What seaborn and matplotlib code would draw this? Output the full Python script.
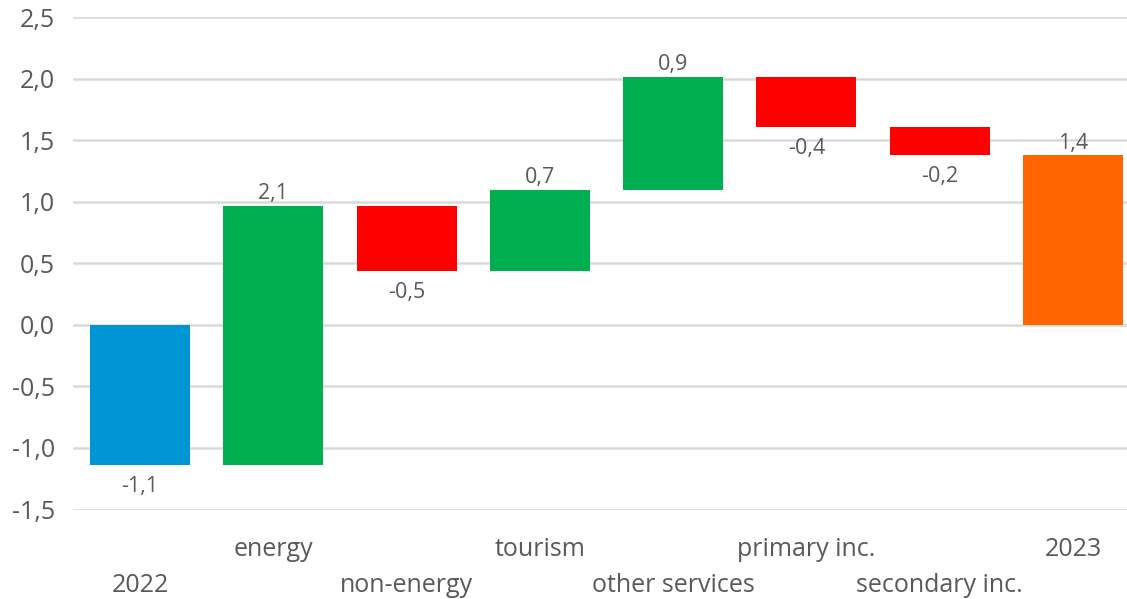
import matplotlib
matplotlib.use("Agg")
import matplotlib.pyplot as plt
import seaborn as sns
import numpy as np

# Waterfall: variazioni tra 2022 e 2023
categorie = ["2022", "energy", "non-energy", "tourism", "other services",
             "primary inc.", "secondary inc.", "2023"]
variazioni = [-1.14, 2.11, -0.53, 0.66, 0.92, -0.41, -0.23, 1.38]
tipo = ["totale", "delta", "delta", "delta", "delta", "delta", "delta", "totale"]

colori = {"start": "#0096D6", "pos": "#00B050", "neg": "#FF0000", "end": "#FF6600"}
grigio = "#595959"

sns.set_theme(style="white")
plt.rcParams["font.family"] = ["Open Sans", "DejaVu Sans"]

fig = plt.figure(figsize=(11.27, 5.99), dpi=100)
ax = fig.add_axes([73.3 / 1127, 89.5 / 599, 1066.4 / 1127, 492 / 599])

# basi e altezze
cumulato = 0.0
basi, altezze, col = [], [], []
for i, (v, t) in enumerate(zip(variazioni, tipo)):
    if t == "totale":
        basi.append(0.0)
        altezze.append(v)
        cumulato = v
        col.append(colori["start"] if i == 0 else colori["end"])
    else:
        basi.append(cumulato)
        altezze.append(v)
        cumulato += v
        col.append(colori["pos"] if v > 0 else colori["neg"])

for i, cat in enumerate(categorie):
    sns.barplot(x=[cat], y=[altezze[i]], bottom=basi[i], order=categorie,
                color=col[i], saturation=1, width=0.75, ax=ax, linewidth=0)

# etichette dei valori
for i in range(len(categorie)):
    v = variazioni[i]
    testo = f"{v:.1f}".replace(".", ",")
    y = basi[i] + altezze[i]
    if v >= 0:
        ax.annotate(testo, (i, y), xytext=(0, 1), textcoords="offset points",
                    ha="center", va="bottom", fontsize=15.5, color=grigio)
    else:
        ax.annotate(testo, (i, y), xytext=(0, -8), textcoords="offset points",
                    ha="center", va="top", fontsize=15.5, color=grigio)

ax.set_ylim(-1.5, 2.5)
ax.set_xlim(-0.5, 7.5)
ax.set_yticks(np.arange(-1.5, 2.51, 0.5))
ax.set_yticklabels([f"{t:.1f}".replace(".", ",") for t in np.arange(-1.5, 2.51, 0.5)])
ax.yaxis.grid(True, color="#D9D9D9", linewidth=1.8)
ax.set_axisbelow(True)

ax.set_xticks(range(len(categorie)))
ax.set_xticklabels(categorie)
ax.tick_params(axis="x", length=0, pad=20, labelsize=18, colors=grigio)
ax.tick_params(axis="y", length=0, pad=13, labelsize=18, colors=grigio)
# etichette alternate su due righe
for i, tick in enumerate(ax.xaxis.get_major_ticks()):
    tick.set_pad(20 if i % 2 == 1 else 46)
ax.set_xlabel("")
ax.set_ylabel("")
sns.despine(ax=ax, left=True, bottom=True)

fig.savefig("out.png", dpi=100)
